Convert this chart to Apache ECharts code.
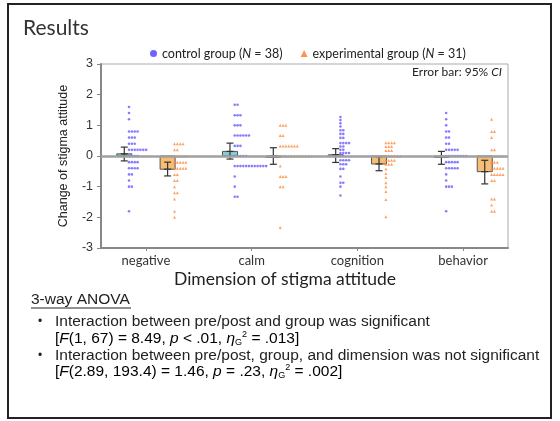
<!DOCTYPE html>
<html><head><meta charset="utf-8">
<script src="https://cdn.jsdelivr.net/npm/echarts@6/dist/echarts.min.js"></script>
<style>html,body{margin:0;padding:0;background:#fff}#c{width:560px;height:421px}</style>
</head><body><div id="c"></div>
<script>
// ---------- data ----------
const categories = ['negative', 'calm', 'cognition', 'behavior'];
const groupNames = ['control group', 'experimental group'];
const groupN = [38, 31];

// means and 95% CI bounds per dimension
const controlMeans  = [0.07, 0.15, 0.04, -0.03];
const controlCILow  = [-0.16, -0.10, -0.21, -0.27];
const controlCIHigh = [0.29, 0.42, 0.24, 0.15];
const expMeans      = [-0.43, 0.00, -0.26, -0.51];
const expCILow      = [-0.65, -0.27, -0.48, -0.91];
const expCIHigh     = [-0.20, 0.27, -0.03, -0.14];

// individual change scores as [value, count]
const negControl = [[1.6,1],[1.4,1],[1.2,1],[0.8,4],[0.6,3],[0.4,3],[0.2,7],[0,4],[-0.2,4],[-0.4,4],[-0.6,2],[-0.8,1],[-1.0,2],[-1.8,1]];
const negExp = [[0.4,4],[0.2,2],[0,5],[-0.2,5],[-0.4,5],[-0.6,2],[-0.8,2],[-1.0,1],[-1.2,2],[-1.4,1],[-1.8,1],[-2.0,1]];
const calmControl = [[1.67,2],[1.33,3],[1.0,3],[0.67,6],[0.33,3],[0,5],[-0.33,12],[-0.67,1],[-1.0,1],[-1.33,2]];
const calmExp = [[1.0,3],[0.67,2],[0.33,7],[0,12],[-0.33,1],[-0.67,3],[-1.0,2],[-2.33,1]];
const cogControl = [[1.27,1],[1.17,1],[1.07,1],[0.96,1],[0.84,2],[0.72,2],[0.59,2],[0.42,4],[0.31,2],[0.2,2],[0.1,4],[0,2],[-0.14,4],[-0.27,3],[-0.42,2],[-0.67,1],[-0.87,2],[-1.0,1],[-1.29,1]];
const cogExp = [[0.43,4],[0.31,3],[0.18,3],[0,6],[-0.14,4],[-0.27,3],[-0.42,1],[-0.57,1],[-0.7,1],[-0.87,1],[-1.0,1],[-1.16,1],[-1.42,1],[-1.98,1]];
const behControl = [[1.4,1],[1.2,1],[1.0,1],[0.8,2],[0.6,2],[0.4,2],[0.2,5],[0,8],[-0.2,5],[-0.4,5],[-0.6,1],[-0.8,1],[-1.0,3],[-1.8,1]];
const behExp = [[1.2,1],[0.8,2],[0.6,1],[0.2,2],[0,5],[-0.2,3],[-0.4,5],[-0.6,5],[-0.8,2],[-1.4,2],[-1.6,1],[-1.8,2]];

const controlDots = [negControl, calmControl, cogControl, behControl];
const expDots = [negExp, calmExp, cogExp, behExp];

// ---------- layout helpers ----------
const BAR_OFF = 0.205, CTRL_DOT_START = -0.16, EXP_DOT_START = 0.27, DOT_STEP = 0.027;
function stackDots(sets, start) {
  const out = [];
  sets.forEach((pairs, ci) => {
    pairs.forEach(([v, n]) => {
      for (let k = 0; k < n; k++) out.push([ci + 1 + start + k * DOT_STEP, v]);
    });
  });
  return out;
}
function barData(means, lo, hi, off) {
  return means.map((m, i) => [i + 1 + off, m, lo[i], hi[i]]);
}
function makeBarRender(fill) {
  return function (params, api) {
    const x = api.value(0), m = api.value(1), lo = api.value(2), hi = api.value(3);
    const c0 = api.coord([x, 0]), cm = api.coord([x, m]);
    const cl = api.coord([x, lo]), ch = api.coord([x, hi]);
    const hw = 7.5, cap = 3.5;
    const es = { stroke: '#333', lineWidth: 1.2 };
    return { type: 'group', children: [
      { type: 'rect', shape: { x: c0[0] - hw, y: Math.min(c0[1], cm[1]), width: hw * 2, height: Math.max(Math.abs(cm[1] - c0[1]), 1.5) },
        style: { fill: fill, stroke: '#555', lineWidth: 1 } },
      { type: 'line', shape: { x1: cl[0], y1: cl[1], x2: ch[0], y2: ch[1] }, style: es },
      { type: 'line', shape: { x1: cl[0] - cap, y1: cl[1], x2: cl[0] + cap, y2: cl[1] }, style: es },
      { type: 'line', shape: { x1: ch[0] - cap, y1: ch[1], x2: ch[0] + cap, y2: ch[1] }, style: es },
      { type: 'line', shape: { x1: cm[0] - cap, y1: cm[1], x2: cm[0] + cap, y2: cm[1] }, style: es }
    ]};
  };
}

const LATO = 'Lato, "Open Sans", sans-serif';
const ARIAL = '"Liberation Sans", Arial, sans-serif';
const FS = 15.5;
const txt = { fontFamily: ARIAL, fontSize: FS, color: '#222', lineHeight: 17 };
const rich = {
  t: txt,
  i: Object.assign({}, txt, { fontStyle: 'italic' }),
  sub: { fontFamily: ARIAL, fontSize: 9, color: '#222', verticalAlign: 'bottom' },
  sup: { fontFamily: ARIAL, fontSize: 9, color: '#222', verticalAlign: 'top' }
};

const chart = echarts.init(document.getElementById('c'), null, { renderer: 'canvas' });
chart.setOption({
  animation: false,
  backgroundColor: '#fff',
  grid: { left: 101, right: 52, top: 64, bottom: 173, show: true, borderColor: '#aaa', borderWidth: 1, backgroundColor: 'transparent' },
  legend: {
    left: 145, top: 42, itemWidth: 7, itemHeight: 7, itemGap: 18,
    data: [
      { name: groupNames[0], icon: 'circle', itemStyle: { color: '#4b3bff' } },
      { name: groupNames[1], icon: 'triangle', itemStyle: { color: '#ff7a1f' } }
    ],
    formatter: function (name) {
      const i = groupNames.indexOf(name);
      return '{a|' + name + ' (}{b|N}{a| = ' + groupN[i] + ')}';
    },
    textStyle: { rich: {
      a: { fontFamily: LATO, fontSize: 12.5, color: '#222' },
      b: { fontFamily: LATO, fontSize: 12.5, color: '#222', fontStyle: 'italic' }
    } }
  },
  xAxis: {
    type: 'value', min: 0.575, max: 4.425,
    axisLine: { onZero: false, lineStyle: { color: '#888', width: 2 } },
    axisTick: { show: true, customValues: [1, 2, 3, 4], length: 3, lineStyle: { color: '#888' } },
    axisLabel: { customValues: [1, 2, 3, 4], formatter: v => categories[Math.round(v) - 1], fontFamily: LATO, fontSize: 13, color: '#333', margin: 6 },
    splitLine: { show: false }
  },
  yAxis: {
    type: 'value', min: -3, max: 3, interval: 1,
    name: 'Change of stigma attitude', nameLocation: 'middle', nameGap: 31, nameRotate: 90,
    nameTextStyle: { fontFamily: ARIAL, fontSize: 12.5, color: '#222' },
    axisLine: { show: true, lineStyle: { color: '#888', width: 2 } },
    axisTick: { show: true, length: 4, lineStyle: { color: '#888' } },
    axisLabel: { fontFamily: ARIAL, fontSize: 12.5, color: '#333', margin: 8 },
    splitLine: { show: false }
  },
  series: [
    { type: 'line', data: [], z: 1, silent: true,
      markLine: { silent: true, symbol: 'none', label: { show: false }, data: [{ yAxis: 0 }],
        lineStyle: { color: '#a0a0a0', width: 2.5, type: 'solid' } } },
    { type: 'custom', name: 'control bars', z: 2, renderItem: makeBarRender('#7fd0d4'),
      data: barData(controlMeans, controlCILow, controlCIHigh, -BAR_OFF) },
    { type: 'custom', name: 'experimental bars', z: 2, renderItem: makeBarRender('#f7bd75'),
      data: barData(expMeans, expCILow, expCIHigh, BAR_OFF) },
    { type: 'scatter', name: groupNames[0], z: 3, symbol: 'circle', symbolSize: 2.6,
      itemStyle: { color: '#6a5cff' }, data: stackDots(controlDots, CTRL_DOT_START) },
    { type: 'scatter', name: groupNames[1], z: 3, symbol: 'triangle', symbolSize: 3,
      itemStyle: { color: '#ff8a3d' }, data: stackDots(expDots, EXP_DOT_START) }
  ],
  graphic: [
    { type: 'rect', shape: { x: 8, y: 4, width: 543, height: 414 }, style: { fill: 'none', stroke: '#222', lineWidth: 2 }, silent: true },
    { type: 'text', x: 23, y: 28, style: { text: 'Results', font: '21px ' + LATO, fill: '#333', verticalAlign: 'middle' } },
    { type: 'text', x: 502, y: 72, style: { text: '{a|Error bar: 95% }{b|CI}', align: 'right', verticalAlign: 'middle',
        rich: { a: { fontFamily: LATO, fontSize: 12, fill: '#222' }, b: { fontFamily: LATO, fontSize: 12, fill: '#222', fontStyle: 'italic' } } } },
    { type: 'text', x: 285, y: 279, style: { text: 'Dimension of stigma attitude', font: '17.5px ' + LATO, fill: '#222', align: 'center', verticalAlign: 'middle' } },
    { type: 'text', x: 31, y: 300, style: { text: '3-way ANOVA', font: FS + 'px ' + ARIAL, fill: '#222', verticalAlign: 'middle' } },
    { type: 'line', shape: { x1: 31, y1: 308, x2: 131, y2: 308 }, style: { stroke: '#222', lineWidth: 1 } },
    { type: 'text', x: 38, y: 322, style: { text: '•', font: '12px ' + ARIAL, fill: '#222', verticalAlign: 'middle' } },
    { type: 'text', x: 55, y: 322, style: { text: 'Interaction between pre/post and group was significant', font: FS + 'px ' + ARIAL, fill: '#222', verticalAlign: 'middle' } },
    { type: 'text', x: 55, y: 339, style: { verticalAlign: 'middle', rich: rich,
        text: '{t|[}{i|F}{t|(1, 67) = 8.49, }{i|p}{t| < .01, }{i|η}{sub|G}{sup|2}{t| = .013]}' } },
    { type: 'text', x: 38, y: 356, style: { text: '•', font: '12px ' + ARIAL, fill: '#222', verticalAlign: 'middle' } },
    { type: 'text', x: 55, y: 356, style: { text: 'Interaction between pre/post, group, and dimension was not significant', font: FS + 'px ' + ARIAL, fill: '#222', verticalAlign: 'middle' } },
    { type: 'text', x: 55, y: 372, style: { verticalAlign: 'middle', rich: rich,
        text: '{t|[}{i|F}{t|(2.89, 193.4) = 1.46, }{i|p}{t| = .23, }{i|η}{sub|G}{sup|2}{t| = .002]}' } }
  ]
});
</script>
</body></html>
